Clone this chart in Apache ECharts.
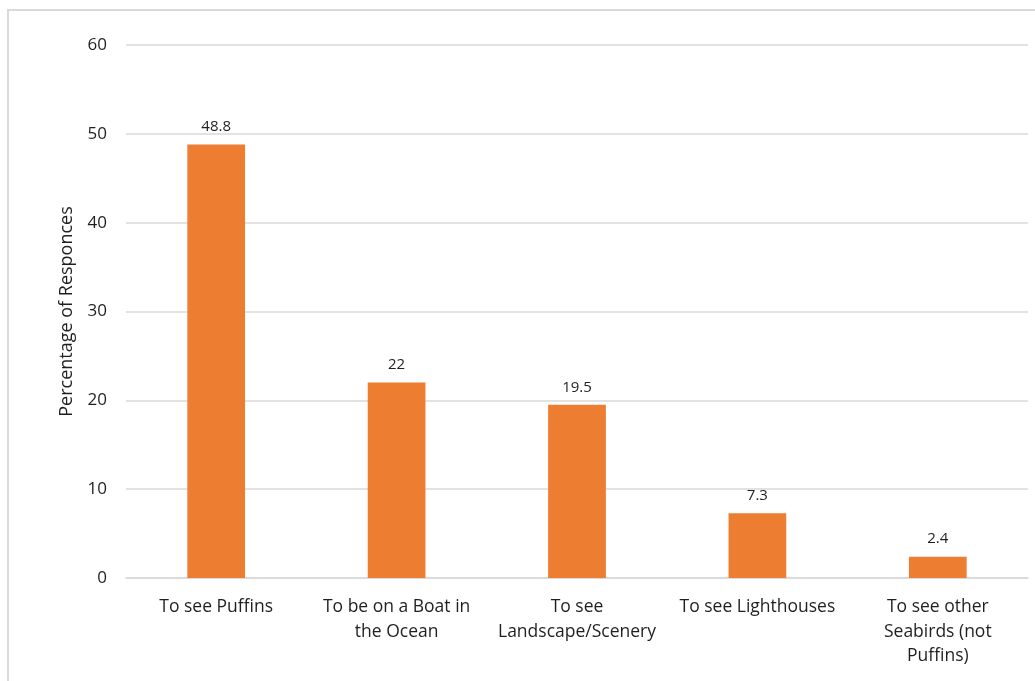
<!DOCTYPE html>
<html>
<head>
<meta charset="utf-8">
<script src="https://cdn.jsdelivr.net/npm/echarts@6/dist/echarts.min.js"></script>
<style>
  html, body { margin: 0; padding: 0; background: #fff; }
  #frame { position: absolute; left: 7px; top: 9px; width: 1028px; height: 672px;
           border-top: 2px solid #d9d9d9; border-left: 2px solid #d9d9d9; box-sizing: border-box; }
  #chart { position: absolute; left: 0; top: 0; width: 1035px; height: 681px; }
</style>
</head>
<body>
<div id="frame"></div>
<div id="chart"></div>
<script>
// chart data
var categories = ["To see Puffins", "To be on a Boat in\nthe Ocean", "To see\nLandscape/Scenery",
                  "To see Lighthouses", "To see other\nSeabirds (not\nPuffins)"];
var percentages = [48.8, 22, 19.5, 7.3, 2.4];
var yTicks = [0, 10, 20, 30, 40, 50, 60];

var font = "'Open Sans', sans-serif";
var myChart = echarts.init(document.getElementById("chart"));
var option = {
    animation: false,
    grid: { left: 126, right: 7, top: 45, bottom: 103 },
    xAxis: {
        type: "category",
        data: categories,
        axisLine: { lineStyle: { color: "#d9d9d9", width: 1.5 } },
        axisTick: { show: false },
        axisLabel: { color: "#1f1f1f", fontSize: 17.5, fontFamily: font, margin: 17, lineHeight: 24.5, interval: 0 }
    },
    yAxis: {
        type: "value",
        min: yTicks[0],
        max: yTicks[yTicks.length - 1],
        interval: 10,
        name: "Percentage of Responces",
        nameLocation: "middle",
        nameGap: 50,
        nameTextStyle: { color: "#1f1f1f", fontSize: 18, fontFamily: font },
        axisLine: { show: false },
        axisTick: { show: false },
        axisLabel: { color: "#1f1f1f", fontSize: 17, fontFamily: font, margin: 19 },
        splitLine: { lineStyle: { color: "#d9d9d9", width: 1.5 } }
    },
    series: [{
        type: "bar",
        data: percentages,
        barWidth: "32%",
        itemStyle: { color: "#ed7d31" },
        label: { show: true, position: "top", distance: 10, color: "#1f1f1f", fontSize: 15, fontFamily: font }
    }]
};
myChart.setOption(option);
</script>
</body>
</html>
